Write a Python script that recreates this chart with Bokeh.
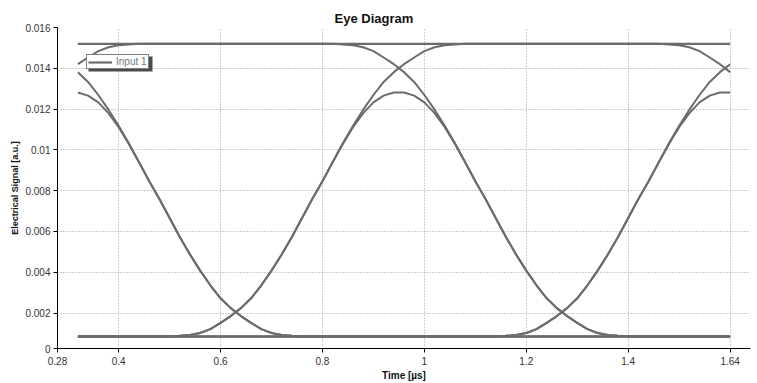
from bokeh.plotting import figure
from bokeh.models import FixedTicker, Range1d, BoxAnnotation
from bokeh.embed import file_html
from bokeh.resources import INLINE
import numpy as np

# ---------------- data ----------------
# sample times [µs]
time_us = [0.32, 0.34, 0.36, 0.38, 0.40, 0.42, 0.44, 0.46, 0.48, 0.50,
           0.52, 0.54, 0.56, 0.58, 0.60, 0.62, 0.64, 0.66, 0.68, 0.70,
           0.72, 0.74, 0.76, 0.78, 0.80, 0.82, 0.84, 0.86, 0.88, 0.90,
           0.92, 0.94, 0.96, 0.98, 1.00, 1.02, 1.04, 1.06, 1.08, 1.10,
           1.12, 1.14, 1.16, 1.18, 1.20, 1.22, 1.24, 1.26, 1.28, 1.30,
           1.32, 1.34, 1.36, 1.38, 1.40, 1.42, 1.44, 1.46, 1.48, 1.50,
           1.52, 1.54, 1.56, 1.58, 1.60]

# traces, in 1e-3 a.u.
flat_t = [0.32, 1.60]
level_high = [15.2, 15.2]
level_low = [0.85, 0.85]

trace_rise_hold_fall = ([14.20, 14.53, 14.84, 15.03, 15.13, 15.17, 15.2] + [15.2] * 18 +
                        [15.2, 15.17, 15.13, 15.03, 14.84, 14.53, 14.20, 13.81, 13.33, 12.69,
                         11.97, 11.18, 10.32, 9.39, 8.46, 7.59, 6.66, 5.73, 4.87, 4.08,
                         3.36, 2.72, 2.24, 1.85, 1.52, 1.21, 1.02, 0.92, 0.88, 0.85] + [0.85] * 10)

trace_fall_first = ([13.81, 13.33, 12.69, 11.97, 11.18, 10.32, 9.39, 8.46, 7.59, 6.66,
                     5.73, 4.87, 4.08, 3.36, 2.72, 2.24, 1.85, 1.52, 1.21, 1.02,
                     0.92, 0.88, 0.85] + [0.85] * 42)

trace_pulse_first = ([12.81, 12.66, 12.33, 11.80, 11.11, 10.29, 9.39,
                      8.46, 7.59, 6.66, 5.73, 4.87, 4.08, 3.36, 2.72, 2.24, 1.85, 1.52, 1.21, 1.02,
                      0.92, 0.88, 0.85] + [0.85] * 42)

trace_pulse_middle = ([0.85] * 9 +
                      [0.85, 0.88, 0.92, 1.02, 1.21, 1.52, 1.85, 2.24, 2.72, 3.36, 4.08, 4.87,
                       5.73, 6.66, 7.59, 8.46] +
                      [9.39, 10.29, 11.11, 11.80, 12.33, 12.66, 12.81, 12.81, 12.66, 12.33,
                       11.80, 11.11, 10.29, 9.39] +
                      [8.46, 7.59, 6.66, 5.73, 4.87, 4.08, 3.36, 2.72, 2.24, 1.85, 1.52, 1.21,
                       1.02, 0.92, 0.88, 0.85] + [0.85] * 10)

trace_rise_hold_end = ([0.85] * 9 +
                       [0.85, 0.88, 0.92, 1.02, 1.21, 1.52, 1.85, 2.24, 2.72, 3.36, 4.08, 4.87,
                        5.73, 6.66, 7.59, 8.46, 9.39, 10.32, 11.18, 11.97, 12.69, 13.33, 13.81,
                        14.20, 14.53, 14.84, 15.03, 15.13, 15.17, 15.2] + [15.2] * 18 +
                       [15.2, 15.17, 15.13, 15.03, 14.84, 14.53, 14.20, 13.81])

trace_rise_last = ([0.85] * 41 +
                   [0.85, 0.88, 0.92, 1.02, 1.21, 1.52, 1.85, 2.24, 2.72, 3.36, 4.08, 4.87,
                    5.73, 6.66, 7.59, 8.46, 9.39, 10.32, 11.18, 11.97, 12.69, 13.33, 13.81, 14.20])

trace_pulse_last = ([0.85] * 41 +
                    [0.85, 0.88, 0.92, 1.02, 1.21, 1.52, 1.85, 2.24, 2.72, 3.36, 4.08, 4.87,
                     5.73, 6.66, 7.59, 8.46] +
                    [9.39, 10.29, 11.11, 11.80, 12.33, 12.66, 12.81, 12.81])

x_tick_values = [0.28, 0.4, 0.6, 0.8, 1.0, 1.2, 1.4, 1.6]
x_tick_labels = ["0.28", "0.4", "0.6", "0.8", "1", "1.2", "1.4", "1.64"]
x_grid_values = [0.4, 0.6, 0.8, 1.0, 1.2, 1.4, 1.6]
y_tick_values = [0.00026, 0.002, 0.004, 0.006, 0.008, 0.01, 0.012, 0.014, 0.016]
y_tick_labels = ["0", "0.002", "0.004", "0.006", "0.008", "0.01", "0.012", "0.014", "0.016"]
y_grid_values = [0.002, 0.004, 0.006, 0.008, 0.01, 0.012, 0.014]

SCALE = 1e-3
FONT = "Liberation Sans"
LINE = "#6b6b6b"

# ---------------- figure ----------------
p = figure(width=757, height=383, output_backend="svg", toolbar_location=None,
           x_range=Range1d(0.28, 1.64), y_range=Range1d(0.00026, 0.016),
           min_border_left=57, min_border_right=7, min_border_top=27, min_border_bottom=32)
p.outline_line_color = None
p.background_fill_color = "white"
p.border_fill_color = "white"

p.title.text = "Eye Diagram"
p.title.text_font = FONT
p.title.text_font_size = "13px"
p.title.text_font_style = "bold"
p.title.text_color = "#111111"
p.title.align = "left"
p.title.offset = 277
p.title.standoff = 3

# legend drop shadow (screen units, frame-relative), drawn before the legend
LEG_X, LEG_Y, LEG_W, LEG_H = 29, 279, 64, 15
p.add_layout(BoxAnnotation(left=LEG_X + 2, right=LEG_X + LEG_W + 2,
                           bottom=LEG_Y - 2, top=LEG_Y + LEG_H - 2,
                           left_units="screen", right_units="screen",
                           bottom_units="screen", top_units="screen",
                           fill_color="#4a4a4a", fill_alpha=1, line_color=None,
                           level="overlay"))

t = np.array(time_us)
traces = [trace_rise_hold_fall, trace_fall_first, trace_pulse_first, trace_pulse_middle,
          trace_rise_hold_end, trace_rise_last, trace_pulse_last]
p.line(flat_t, np.array(level_low) * SCALE, line_color=LINE, line_width=2)
for tr in traces:
    p.line(t, np.array(tr) * SCALE, line_color=LINE, line_width=2)
p.line(flat_t, np.array(level_high) * SCALE, line_color=LINE, line_width=2.2, legend_label="Input 1")

# axes
for ax in (p.xaxis, p.yaxis):
    ax.axis_line_color = "black"
    ax.axis_line_width = 1
    ax.major_tick_line_color = "black"
    ax.major_tick_in = 0
    ax.major_tick_out = 4
    ax.minor_tick_line_color = None
    ax.major_label_text_font = FONT
    ax.major_label_text_font_size = "10px"
    ax.major_label_text_color = "#333333"
    ax.axis_label_text_font = FONT
    ax.axis_label_text_font_style = "bold"
    ax.axis_label_text_color = "#111111"

p.xaxis.ticker = FixedTicker(ticks=x_tick_values)
p.xaxis.major_label_overrides = dict(zip(x_tick_values, x_tick_labels))
p.xaxis.axis_label = "Time [µs]"
p.xaxis.axis_label_text_font_size = "10px"
p.xaxis.major_label_standoff = 4
p.xaxis.axis_label_standoff = 2

p.yaxis.ticker = FixedTicker(ticks=y_tick_values)
p.yaxis.major_label_overrides = dict(zip(y_tick_values, y_tick_labels))
p.yaxis.axis_label = "Electrical Signal [a.u.]"
p.yaxis.axis_label_text_font_size = "9px"
p.yaxis.major_label_standoff = 3
p.yaxis.axis_label_standoff = 2

p.xgrid.ticker = FixedTicker(ticks=x_grid_values)
p.ygrid.ticker = FixedTicker(ticks=y_grid_values)
for g in (p.xgrid, p.ygrid):
    g.grid_line_color = "#9c9c9c"
    g.grid_line_dash = "1 2"
    g.grid_line_width = 1

lg = p.legend[0]
lg.location = (LEG_X, LEG_Y)
lg.border_line_color = "black"
lg.border_line_width = 1
lg.background_fill_color = "white"
lg.background_fill_alpha = 1
lg.label_text_font = FONT
lg.label_text_font_size = "10px"
lg.label_text_color = "#777777"
lg.padding = 1
lg.margin = 0
lg.spacing = 0
lg.glyph_width = 24
lg.glyph_height = 10
lg.label_height = 10
lg.label_standoff = 4

open("out.html", "w").write(file_html(p, INLINE))
